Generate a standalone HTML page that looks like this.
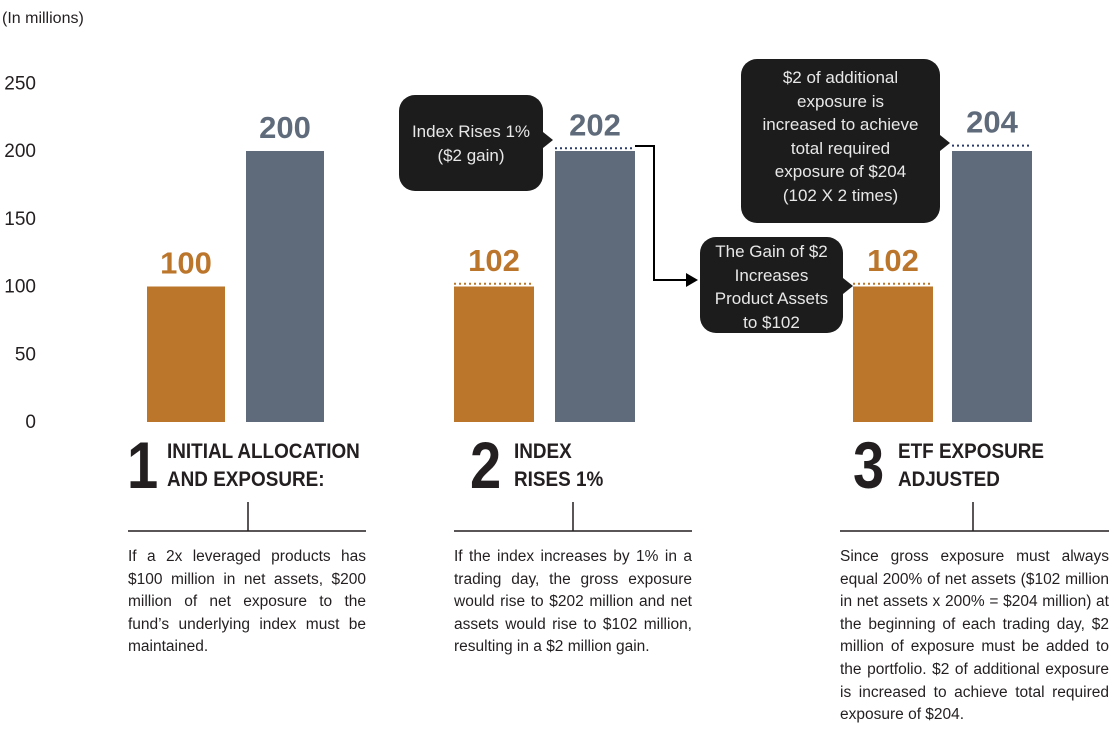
<!DOCTYPE html>
<html><head><meta charset="utf-8"><style>
body{margin:0;width:1118px;height:750px;background:#fff;font-family:"Liberation Sans",sans-serif;overflow:hidden;position:relative}
.t{position:absolute;color:#231f20}
.desc{position:absolute;font-size:15.5px;line-height:22.6px;text-align:justify;color:#231f20;font-stretch:condensed}
.step{position:absolute;font-weight:bold;font-size:21px;line-height:28px;color:#231f20;transform:scaleX(.9);transform-origin:left}
.num{position:absolute;font-weight:bold;font-size:66px;line-height:66px;color:#231f20;transform:scaleX(.85);transform-origin:left}
.bub{position:absolute;background:#1c1c1c;color:#e8e8e8;border-radius:16px;font-size:17px;line-height:23.5px;text-align:center;box-sizing:border-box}
</style></head><body>
<div class="t" style="left:2px;top:10px;font-size:16px">(In millions)</div>
<svg id="chart" width="1118" height="750" style="position:absolute;left:0;top:0"></svg>

<div class="bub" style="left:399px;top:95px;width:144px;height:96px;padding-top:25px">Index Rises 1%<br>($2 gain)</div>
<div class="bub" style="left:700px;top:237px;width:143px;height:96px;padding-top:3px">The Gain of $2<br>Increases<br>Product Assets<br>to $102</div>
<div class="bub" style="left:741px;top:59px;width:199px;height:164px;padding-top:7px">$2 of additional<br>exposure is<br>increased to achieve<br>total required<br>exposure of $204<br>(102 X 2 times)</div>

<div class="num" style="left:127px;top:432px">1</div>
<div class="step" style="left:167px;top:438px">INITIAL ALLOCATION<br>AND EXPOSURE:</div>
<div class="num" style="left:470px;top:432px">2</div>
<div class="step" style="left:514px;top:438px">INDEX<br>RISES 1%</div>
<div class="num" style="left:853px;top:432px">3</div>
<div class="step" style="left:898px;top:438px">ETF EXPOSURE<br>ADJUSTED</div>

<div class="desc" style="left:128px;top:546px;width:238px">If a 2x leveraged products has $100 million in net assets, $200 million of net exposure to the fund’s underlying index must be maintained.</div>
<div class="desc" style="left:454px;top:546px;width:238px">If the index increases by 1% in a trading day, the gross exposure would rise to $202 million and net assets would rise to $102 million, resulting in a $2 million gain.</div>
<div class="desc" style="left:840px;top:546px;width:269px">Since gross exposure must always equal 200% of net assets ($102 million in net assets x 200% = $204 million) at the beginning of each trading day, $2 million of exposure must be added to the portfolio. $2 of additional exposure is increased to achieve total required exposure of $204.</div>

<script>
const ticks=[0,50,100,150,200,250];
const groups=["1","2","3"];
const netBase=[100,100,100];
const expBase=[200,200,200];
const netLabel=[100,102,102];
const expLabel=[200,202,204];
const svg=document.getElementById('chart');
const NS='http://www.w3.org/2000/svg';
const y=v=>422-v*1.355;
const gx=[147,454,853],gx2=[246,555,952],bw=[78,80,80];
function mk(t,a){const e=document.createElementNS(NS,t);for(const k in a)e.setAttribute(k,a[k]);svg.appendChild(e);return e;}
ticks.forEach(v=>{const t=mk('text',{x:36,y:y(v)+6,'text-anchor':'end','font-size':19,fill:'#231f20','font-family':'Liberation Sans'});


t.textContent=v;});
groups.forEach((g,i)=>{
 const b1=mk('rect',{x:gx[i],y:y(netBase[i]),width:bw[i],height:y(0)-y(netBase[i]),fill:'#bb762c'});
 
 
 const b2=mk('rect',{x:gx2[i],y:y(expBase[i]),width:bw[i],height:y(0)-y(expBase[i]),fill:'#5f6b7b'});
 
 
 if(netLabel[i]!==netBase[i]){const l=mk('line',{x1:gx[i],x2:gx[i]+bw[i],y1:y(netLabel[i]),y2:y(netLabel[i]),stroke:'#bb762c','stroke-width':2,'stroke-dasharray':'2 3'});
  
  }
 if(expLabel[i]!==expBase[i]){const l=mk('line',{x1:gx2[i],x2:gx2[i]+bw[i],y1:y(expLabel[i]),y2:y(expLabel[i]),stroke:'#2a3a6a','stroke-width':2,'stroke-dasharray':'2 3'});
  
  }
 const lab1=mk('text',{x:gx[i]+bw[i]/2,y:y(netLabel[i])-13,'text-anchor':'middle','font-size':31,'font-weight':'bold',fill:'#bb762c','font-family':'Liberation Sans'});
 
 
 lab1.textContent=netLabel[i];
 const lab2=mk('text',{x:gx2[i]+bw[i]/2,y:y(expLabel[i])-13,'text-anchor':'middle','font-size':31,'font-weight':'bold',fill:'#5f6b7b','font-family':'Liberation Sans'});
 
 
 lab2.textContent=expLabel[i];
});
// bracket lines under steps
[[128,366,248],[454,692,573],[840,1109,973]].forEach(([a,b,c])=>{
 const h=mk('path',{d:`M${a} 531H${b}M${c} 531V502`,stroke:'#231f20','stroke-width':1.5,fill:'none'});
 
 
});
// callout pointers
[[543,140,553],[843,286,853],[940,143,950]].forEach(([x,yy,x2])=>{
 const p=mk('polygon',{points:`${x},${yy-8} ${x2},${yy} ${x},${yy+8}`,fill:'#1c1c1c'});
 
 
});
const ar=mk('path',{d:'M635 146H654V280H688',stroke:'#000','stroke-width':2,fill:'none'});


const ah=mk('polygon',{points:'686,273 698,280 686,287',fill:'#000'});


</script>
</body></html>
